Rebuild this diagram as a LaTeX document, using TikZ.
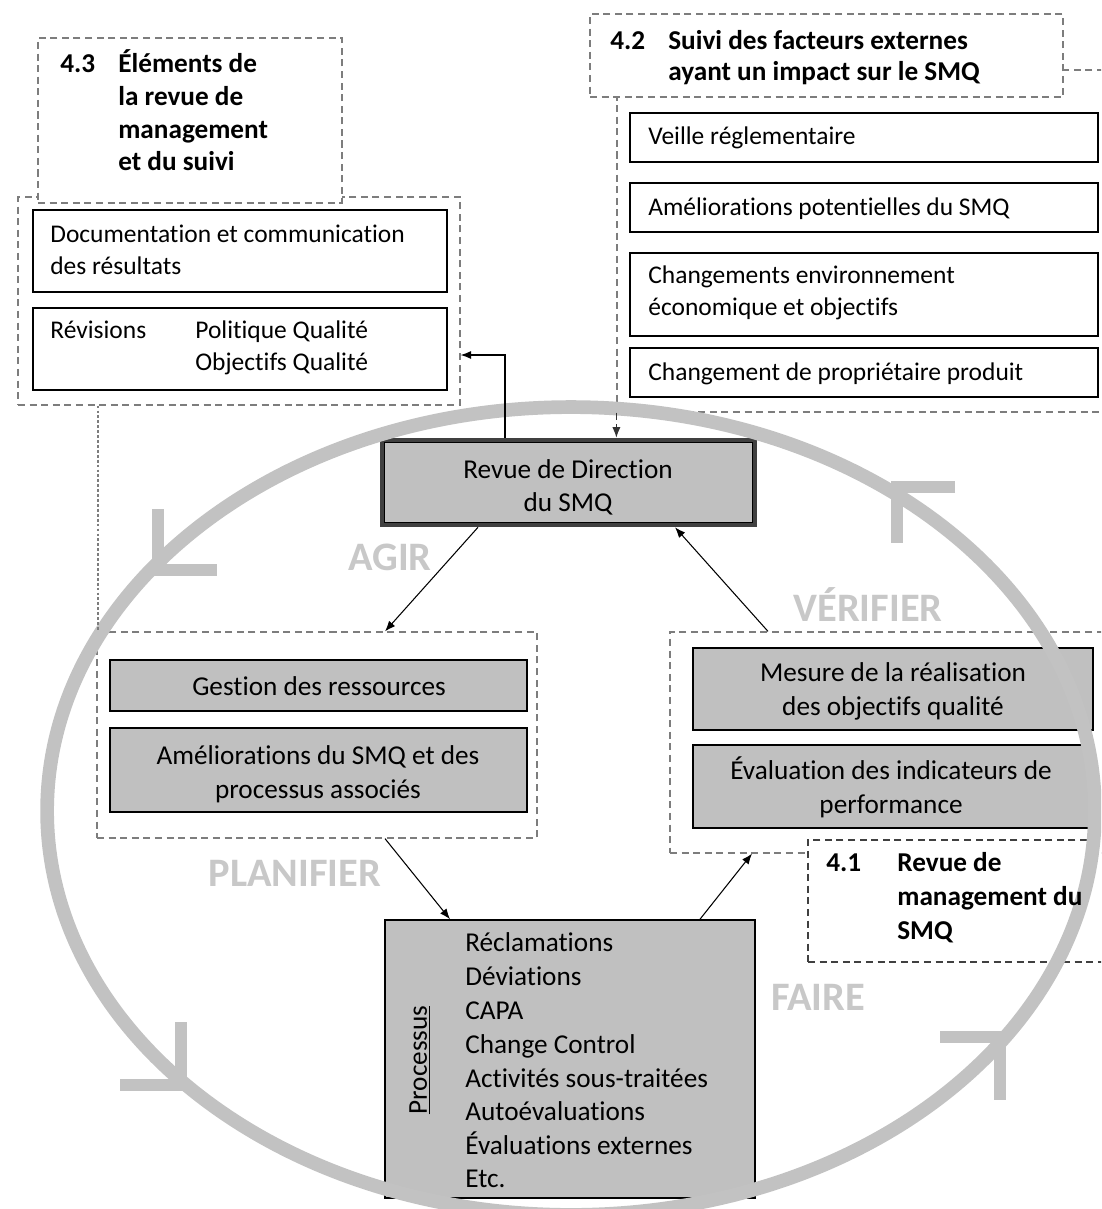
\documentclass[tikz,border=0pt]{standalone}
\usepackage{fontspec}
\setmainfont{Carlito}[Ligatures={NoCommon}]
\usetikzlibrary{arrows.meta,fit,calc}
\definecolor{ringgray}{RGB}{194,194,194}
\definecolor{boxgray}{RGB}{192,192,192}
\definecolor{lblgray}{RGB}{200,200,200}
\definecolor{dashgray}{RGB}{125,125,125}
\begin{document}
\begin{tikzpicture}[x=0.02cm,y=-0.02cm,
  dbox/.style={draw=dashgray, dash pattern=on 4pt off 2.6pt, line width=0.7pt, inner sep=0pt},
  ddark/.style={draw=black!75, dash pattern=on 4pt off 2.6pt, line width=0.7pt, inner sep=0pt},
  wbox/.style={draw=black, fill=white, line width=0.9pt, inner sep=0pt},
  gbox/.style={draw=black, fill=boxgray, line width=0.9pt, inner sep=0pt},
  tw/.style={font=\fontsize{14.5}{18.7}\selectfont, inner sep=0pt},
  tg/.style={font=\fontsize{15.5}{19}\selectfont, inner sep=0pt},
  th/.style={font=\bfseries\fontsize{15.5}{18.7}\selectfont, inner sep=0pt},
  biglbl/.style={font=\bfseries\fontsize{23}{26}\selectfont, text=lblgray, inner sep=0pt},
  arr/.style={-{Latex[length=6pt,width=4.6pt]}, line width=0.6pt},
  ringline/.style={draw=ringgray, line width=7.8pt},
  chev/.style={draw=ringgray, line width=7.2pt, line cap=butt, line join=miter}
]
\useasboundingbox (0,0) rectangle (1101,1209);
\clip (0,0) rectangle (1101,1209);
\fill[white] (0,0) rectangle (1101,1209);

% ---------- 4.3 group ----------
\node[dbox, fit={(18,197)(460,405)}] (out43) {};
\node[dbox, fill=white, fit={(38,38)(342,203)}] (title43) {};
\node[wbox, fit={(33,210)(447,292)}] (doc) {};
\node[wbox, fit={(33,308)(447,390)}] (rev) {};

% ---------- 4.2 group ----------
\node[dbox, fit={(617,70)(1130,412)}] (out42) {};
\node[dbox, fill=white, fit={(590,14)(1063,97)}] (title42) {};
\node[wbox, fit={(630,113)(1098,162)}] (veille) {};
\node[wbox, fit={(630,183)(1098,232)}] (amelpot) {};
\node[wbox, fit={(630,253)(1098,336)}] (chgenv) {};
\node[wbox, fit={(630,348)(1098,397)}] (chgprop) {};

% ---------- Revue de Direction ----------
\node[fit={(382,440)(755,525)}, fill=boxgray, draw=black!75, line width=2.6pt, inner sep=0pt] (revue) {};
\draw[black, line width=0.6pt] ($(revue.north west)+(5,5)$) rectangle ($(revue.south east)+(-5,-5)$);

% ---------- AGIR group ----------
\node[dbox, fit={(97,632)(537,838)}] (agir) {};
\node[gbox, fit={(110,660)(527,711)}] (gestion) {};
\node[gbox, fit={(110,728)(527,812)}] (amelsmq) {};

% ---------- VERIFIER group ----------
\node[dbox, fit={(670,632)(1130,853)}] (verif) {};
\node[gbox, fit={(693,648)(1093,730)}] (mesure) {};
\node[gbox, fit={(693,745)(1090,828)}] (evalind) {};
\node[ddark, fill=white, fit={(808,840)(1130,962)}] (box41) {};

% ---------- Processus ----------
\node[gbox, fit={(385,920)(755,1198)}] (proc) {};

% ---------- big ring ----------
\draw[ringline] (571,811) ellipse [x radius=10.48cm, y radius=8.08cm];
\draw[chev] (158,509) -- (158,570) -- (217,570);
\draw[chev] (955,487) -- (897,487) -- (897,543);
\draw[chev] (181,1022) -- (181,1085) -- (120,1085);
\draw[chev] (940,1037) -- (1000,1037) -- (1000,1100);

% ---------- connectors ----------
\coordinate (cA) at (505,355);
\coordinate (cB) at (478,0);
\coordinate (cC) at (385,0);
\coordinate (cD) at (675,0);
\coordinate (cE) at (768,0);
\coordinate (cF) at (450,0);
\coordinate (cG) at (700,0);
\coordinate (cH) at (752,0);
\coordinate (cI) at (98,0);
\draw[arr] (revue.north -| cA) |- (out43.east |- cA);
\draw[arr] (revue.south -| cB) -- (agir.north -| cC);
\draw[arr] (verif.north -| cE) -- (revue.south -| cD);
\draw[arr] (agir.south -| cC) -- (proc.north -| cF);
\draw[arr] (proc.north -| cG) -- (verif.south -| cH);
\draw[arr, dash pattern=on 4pt off 2.6pt, draw=black!80] (out42.south west) -- (revue.north -| out42.south west);
\draw[draw=dashgray, line width=0.9pt, dash pattern=on 1.6pt off 1.2pt] (out43.south -| cI) -- (agir.north -| cI);

% ---------- texts ----------
\node[th, anchor=base west] (t43n) at (60,73) {4.3};
\node[th, anchor=base west] (t43a) at (118,73) {Éléments de};
\node[th, anchor=base west] (t43b) at (118,106) {la revue de};
\node[th, anchor=base west] (t43c) at (118,139) {management};
\node[th, anchor=base west] (t43d) at (118,171) {et du suivi};

\node[tw, anchor=base west] (tdoc1) at (50,243) {Documentation et communication};
\node[tw, anchor=base west] (tdoc2) at (50,275) {des résultats};
\node[tw, anchor=base west] (trev1) at (50,338) {Révisions};
\node[tw, anchor=base west] (trev2) at (195,338) {Politique Qualité};
\node[tw, anchor=base west] (trev3) at (195,370) {Objectifs Qualité};

\node[th, anchor=base west] (t42n) at (610,50) {4.2};
\node[th, anchor=base west] (t42a) at (668,50) {Suivi des facteurs externes};
\node[th, anchor=base west] (t42b) at (668,81) {ayant un impact sur le SMQ};

\node[tw, anchor=base west] (tveille) at (648,145) {Veille réglementaire};
\node[tw, anchor=base west] (tamelpot) at (648,216) {Améliorations potentielles du SMQ};
\node[tw, anchor=base west] (tchg1) at (648,284) {Changements environnement};
\node[tw, anchor=base west] (tchg2) at (648,316) {économique et objectifs};
\node[tw, anchor=base west] (tprop) at (648,380) {Changement de propriétaire produit};

\node[tg, anchor=base] (trevue1) at (568,478) {Revue de Direction};
\node[tg, anchor=base] (trevue2) at (568,511) {du SMQ};

\node[biglbl] (lagir) at (390,557) {AGIR};
\node[biglbl] (lverif) at (868,605) {VÉRIFIER};
\node[biglbl] (lplan) at (295,873) {PLANIFIER};
\node[biglbl] (lfaire) at (818,997) {FAIRE};

\node[tg, anchor=base] (tgest) at (319,695) {Gestion des ressources};
\node[tg, anchor=base] (tamel1) at (318,764) {Améliorations du SMQ et des};
\node[tg, anchor=base] (tamel2) at (318,798) {processus associés};

\node[tg, anchor=base] (tmes1) at (893,681) {Mesure de la réalisation};
\node[tg, anchor=base] (tmes2) at (893,715) {des objectifs qualité};
\node[tg, anchor=base] (teval1) at (891,779) {Évaluation des indicateurs de};
\node[tg, anchor=base] (teval2) at (891,813) {performance};

\node[th, anchor=base west] (t41n) at (826,871) {4.1};
\node[th, anchor=base west] (t41a) at (897,871) {Revue de};
\node[th, anchor=base west] (t41b) at (897,905) {management du};
\node[th, anchor=base west] (t41c) at (897,939) {SMQ};

\node[tg, rotate=90] (tproc) at (420,1060) {\underline{Processus}};
\node[tg, anchor=base west] (p1) at (465,951) {Réclamations};
\node[tg, anchor=base west] (p2) at (465,985) {Déviations};
\node[tg, anchor=base west] (p3) at (465,1019) {CAPA};
\node[tg, anchor=base west] (p4) at (465,1053) {Change Control};
\node[tg, anchor=base west] (p5) at (465,1087) {Activités sous-traitées};
\node[tg, anchor=base west] (p6) at (465,1120) {Autoévaluations};
\node[tg, anchor=base west] (p7) at (465,1154) {Évaluations externes};
\node[tg, anchor=base west] (p8) at (465,1187) {Etc.};
\end{tikzpicture}
\end{document}
